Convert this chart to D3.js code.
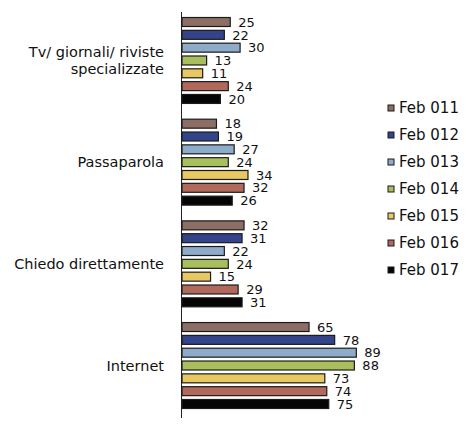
<!DOCTYPE html>
<html><head><meta charset="utf-8">
<script src="https://cdn.jsdelivr.net/npm/d3@7"></script>
<style>body{margin:0;background:#fff}svg{display:block}</style>
</head><body>
<svg id="c" width="467" height="430"></svg>
<script>
const categories = ["Tv/ giornali/ riviste|specializzate", "Passaparola", "Chiedo direttamente", "Internet"];
const series = ["Feb 011", "Feb 012", "Feb 013", "Feb 014", "Feb 015", "Feb 016", "Feb 017"];
const feb011 = [25, 18, 32, 65];
const feb012 = [22, 19, 31, 78];
const feb013 = [30, 27, 22, 89];
const feb014 = [13, 24, 24, 88];
const feb015 = [11, 34, 15, 73];
const feb016 = [24, 32, 29, 74];
const feb017 = [20, 26, 31, 75];
const seriesValues = [feb011, feb012, feb013, feb014, feb015, feb016, feb017];
const colors = ["#8c6e64", "#34448a", "#8eabc9", "#a9bf5e", "#e7c862", "#b0695b", "#050505"];

const svg = d3.select("#c");
const font = "'DejaVu Sans', sans-serif";
const x = d3.scaleLinear().domain([0, 100]).range([181, 378]);
const y0 = d3.scaleBand().domain(categories).range([10, 416]).paddingInner(0.117).paddingOuter(0.055);
const y1 = d3.scaleBand().domain(series).range([0, y0.bandwidth()]).paddingInner(0.3).paddingOuter(0.15);

// axis line
svg.append("line").attr("x1", 181.5).attr("x2", 181.5).attr("y1", 12).attr("y2", 418)
  .attr("stroke", "#222").attr("stroke-width", 1);

const g = svg.append("g");
categories.forEach((c, ci) => {
  series.forEach((s, si) => {
    const v = seriesValues[si][ci];
    const yy = y0(c) + y1(s);
    g.append("rect").attr("x", x(0) + 1).attr("y", yy)
      .attr("width", x(v) - x(0) - 1).attr("height", y1.bandwidth())
      .attr("fill", colors[si]).attr("stroke", "#1b1b1b").attr("stroke-width", 1.2);
    g.append("text").attr("x", x(v) + 8).attr("y", yy + y1.bandwidth() / 2)
      .attr("dy", "0.36em").attr("font-family", font).attr("font-size", 13)
      .attr("fill", "#111").text(v);
  });
  const lines = c.split("|");
  const cy = y0(c) + y0.bandwidth() / 2;
  const t = svg.append("text").attr("text-anchor", "end").attr("font-family", font)
    .attr("font-size", 14.5).attr("fill", "#111");
  lines.forEach((l, li) => {
    t.append("tspan").attr("x", 164)
      .attr("y", cy + (li - (lines.length - 1) / 2) * 17).attr("dy", "0.36em").text(l);
  });
});

// legend
const leg = svg.append("g");
series.forEach((s, si) => {
  const ly = 108 + si * 27;
  leg.append("rect").attr("x", 388).attr("y", ly - 3).attr("width", 6).attr("height", 6)
    .attr("fill", colors[si]).attr("stroke", "#1b1b1b").attr("stroke-width", 1);
  leg.append("text").attr("x", 399).attr("y", ly).attr("dy", "0.36em")
    .attr("font-family", font).attr("font-size", 15).attr("fill", "#111").text(s);
});
</script>
</body></html>
